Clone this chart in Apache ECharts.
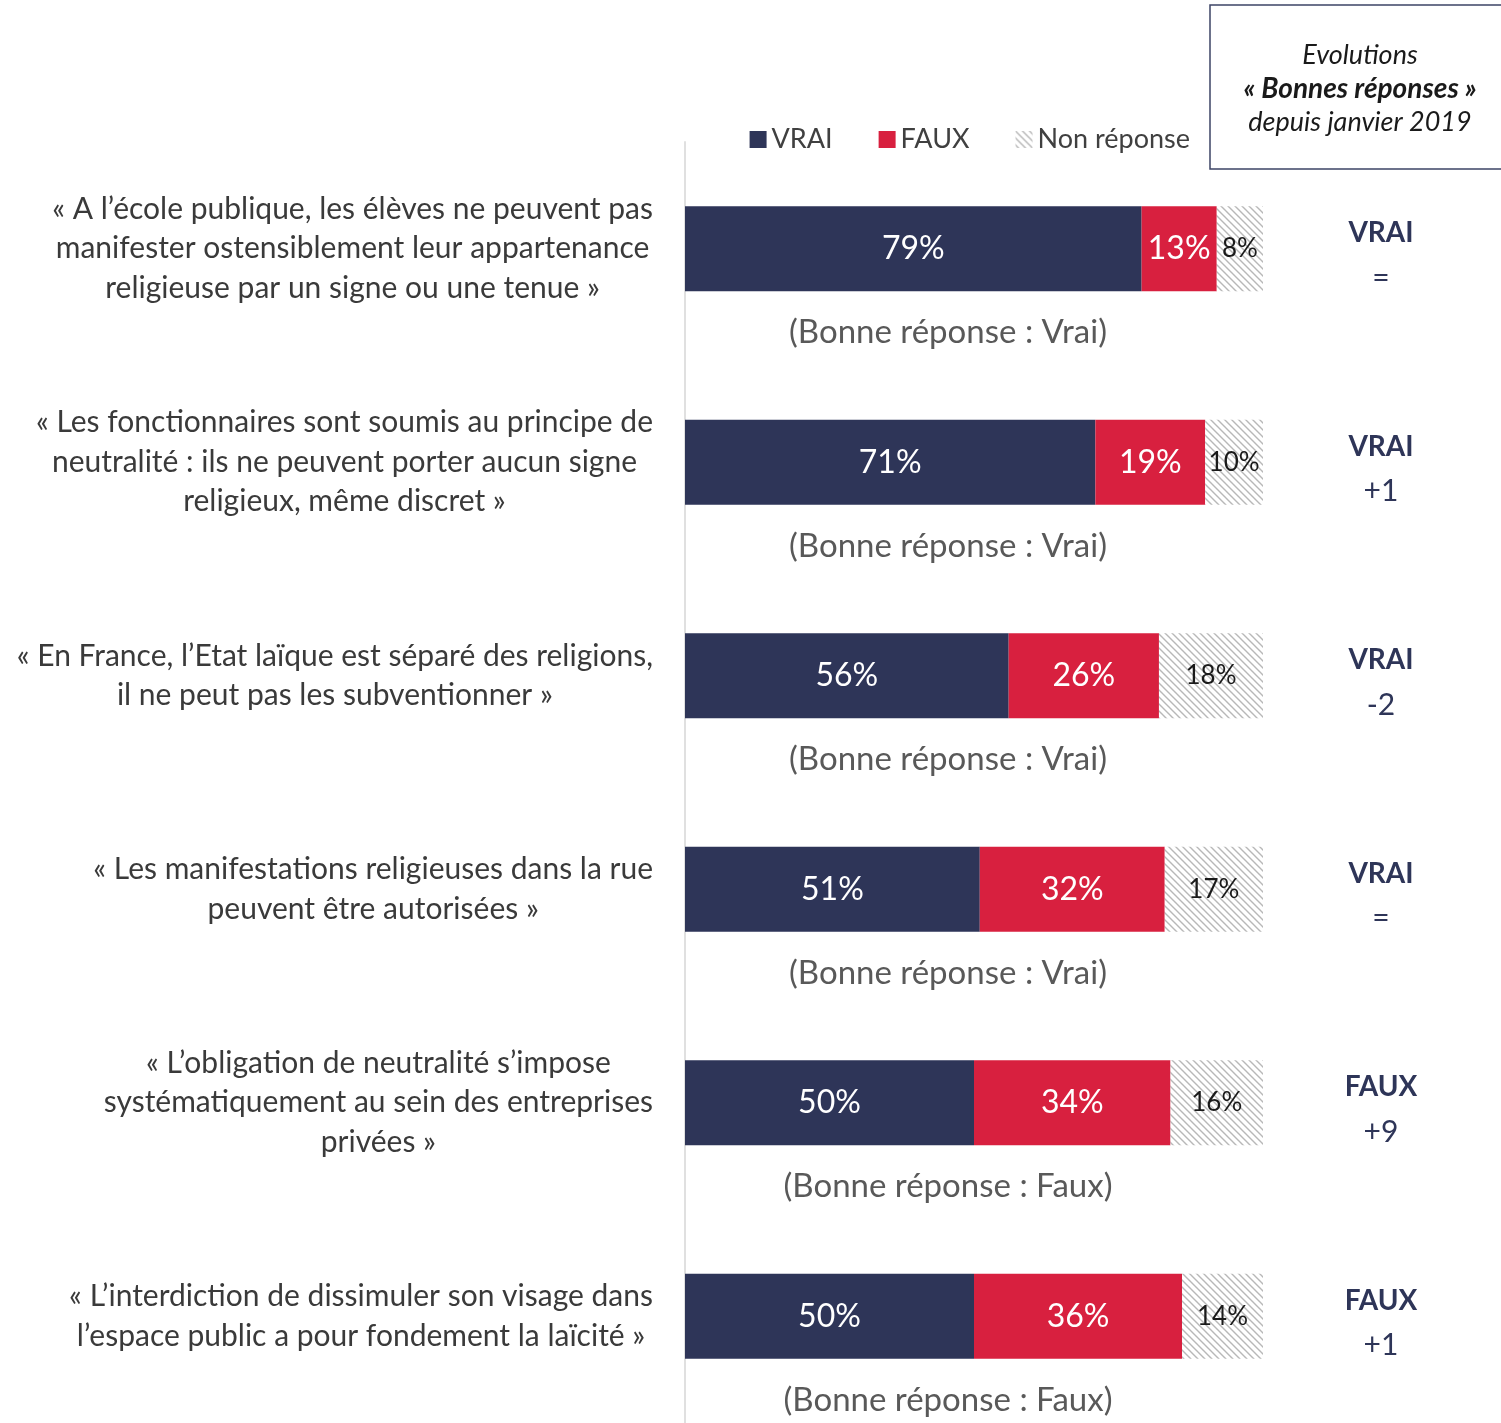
<!DOCTYPE html>
<html>
<head>
<meta charset="utf-8">
<style>
html,body{margin:0;padding:0;background:#fff;}
#main{width:1501px;height:1423px;}
</style>
<script src="https://cdn.jsdelivr.net/npm/echarts@6/dist/echarts.min.js"></script>
</head>
<body>
<div id="main"></div>
<script>
// affirmations (une ligne de texte par élément)
var questions = [
  ['« A l’école publique, les élèves ne peuvent pas', 'manifester ostensiblement leur appartenance', 'religieuse par un signe ou une tenue »'],
  ['« Les fonctionnaires sont soumis au principe de', 'neutralité : ils ne peuvent porter aucun signe', 'religieux, même discret »'],
  ['« En France, l’Etat laïque est séparé des religions,', 'il ne peut pas les subventionner »'],
  ['« Les manifestations religieuses dans la rue', 'peuvent être autorisées »'],
  ['« L’obligation de neutralité s’impose', 'systématiquement au sein des entreprises', 'privées »'],
  ['« L’interdiction de dissimuler son visage dans', 'l’espace public a pour fondement la laïcité »']
];
var vrai = [79, 71, 56, 51, 50, 50];
var faux = [13, 19, 26, 32, 34, 36];
var nonReponse = [8, 10, 18, 17, 16, 14];
var bonneReponse = ['Vrai', 'Vrai', 'Vrai', 'Vrai', 'Faux', 'Faux'];
var evolReponse = ['VRAI', 'VRAI', 'VRAI', 'VRAI', 'FAUX', 'FAUX'];
var evolValeur = ['=', '+1', '-2', '=', '+9', '+1'];

var NAVY = '#2e3558';
var RED = '#d8203f';
var FONT = 'Lato, "Open Sans", sans-serif';

//motif hachuré pour les non réponses
function hatch(){
  var s = 7;
  var c = document.createElement('canvas');
  c.width = s; c.height = s;
  var ctx = c.getContext('2d');
  ctx.fillStyle = '#fff';
  ctx.fillRect(0, 0, s, s);
  ctx.strokeStyle = '#b8b8b8';
  ctx.lineWidth = 1.4;
  ctx.beginPath();
  for (var k = -1; k <= 1; k++) {
    ctx.moveTo(-1, -1 + s * k);
    ctx.lineTo(s + 1, s + 1 + s * k);
  }
  ctx.stroke();
  return c;
}
var hatchColor = {image: hatch(), repeat: 'repeat'};

var cats = questions.map(function(q, i){ return 'q' + i; });

var chart = echarts.init(document.getElementById('main'));
var option = {
  backgroundColor: '#fff',
  animation: false,
  legend: {
    data: ['VRAI', 'FAUX', 'Non réponse'],
    right: 306,
    top: 121,
    itemWidth: 17,
    itemHeight: 17,
    itemGap: 46,
    icon: 'rect',
    textStyle: {fontFamily: FONT, fontSize: 27, color: '#404040'}
  },
  grid: {left: 685, right: 238, top: 142, bottom: 0},
  xAxis: {type: 'value', min: 0, max: 100, show: false},
  yAxis: [
    {
      type: 'category',
      inverse: true,
      data: cats,
      axisTick: {show: false},
      axisLine: {show: true, lineStyle: {color: '#e0e0e0', width: 2}},
      axisLabel: {
        margin: 32,
        formatter: function(v, i){
          return questions[i].map(function(l){ return '{c|' + l + '}'; }).join('\n');
        },
        rich: {
          c: {align: 'center', fontFamily: FONT, fontSize: 30, lineHeight: 39.5, color: '#3a3a3a'}
        }
      }
    },
    {
      type: 'category',
      inverse: true,
      position: 'right',
      data: cats,
      axisTick: {show: false},
      axisLine: {show: false},
      axisLabel: {
        margin: 118,
        align: 'center',
        padding: [14, 0, 0, 0],
        formatter: function(v, i){
          return '{a|' + evolReponse[i] + '}\n{b|' + evolValeur[i] + '}';
        },
        rich: {
          a: {fontFamily: FONT, fontWeight: 'bold', fontSize: 28, lineHeight: 45, color: NAVY, align: 'center'},
          b: {fontFamily: FONT, fontSize: 30, lineHeight: 45, color: NAVY, align: 'center'}
        }
      }
    }
  ],
  series: [
    {
      name: 'VRAI', type: 'bar', stack: 'tot', barWidth: 85,
      itemStyle: {color: NAVY},
      label: {show: true, position: 'inside', formatter: '{c}%', color: '#fff', fontFamily: FONT, fontSize: 32},
      data: vrai
    },
    {
      name: 'FAUX', type: 'bar', stack: 'tot', barWidth: 85,
      itemStyle: {color: RED},
      label: {show: true, position: 'inside', formatter: '{c}%', color: '#fff', fontFamily: FONT, fontSize: 32},
      data: faux
    },
    {
      name: 'Non réponse', type: 'bar', stack: 'tot', barWidth: 85,
      itemStyle: {color: hatchColor},
      label: {show: true, position: 'inside', formatter: '{c}%', color: '#1a1a1a', fontFamily: FONT, fontSize: 26},
      data: nonReponse
    }
  ]
};
chart.setOption(option);

//textes sous les barres + encadré
var graphics = [];
cats.forEach(function(c, i){
  var y = chart.convertToPixel({yAxisIndex: 0}, c);
  graphics.push({
    type: 'text', x: 948, y: y + 84,
    style: {text: '(Bonne réponse : ' + bonneReponse[i] + ')', fill: '#595959', font: '33px ' + FONT, textAlign: 'center', textVerticalAlign: 'middle'}
  });
});
graphics.push({
  type: 'rect', shape: {x: 1210, y: 5, width: 300, height: 164},
  style: {fill: 'none', stroke: '#3d4466', lineWidth: 1.5}
});
graphics.push({type: 'text', x: 1360, y: 55, style: {text: 'Evolutions', fill: '#1a1a1a', font: 'italic 27px ' + FONT, textAlign: 'center', textVerticalAlign: 'middle'}});
graphics.push({type: 'text', x: 1360, y: 89, style: {text: '« Bonnes réponses »', fill: '#1a1a1a', font: 'italic bold 28px ' + FONT, textAlign: 'center', textVerticalAlign: 'middle'}});
graphics.push({type: 'text', x: 1360, y: 122, style: {text: 'depuis janvier 2019', fill: '#1a1a1a', font: 'italic 27px ' + FONT, textAlign: 'center', textVerticalAlign: 'middle'}});
chart.setOption({graphic: graphics});
</script>
</body>
</html>
